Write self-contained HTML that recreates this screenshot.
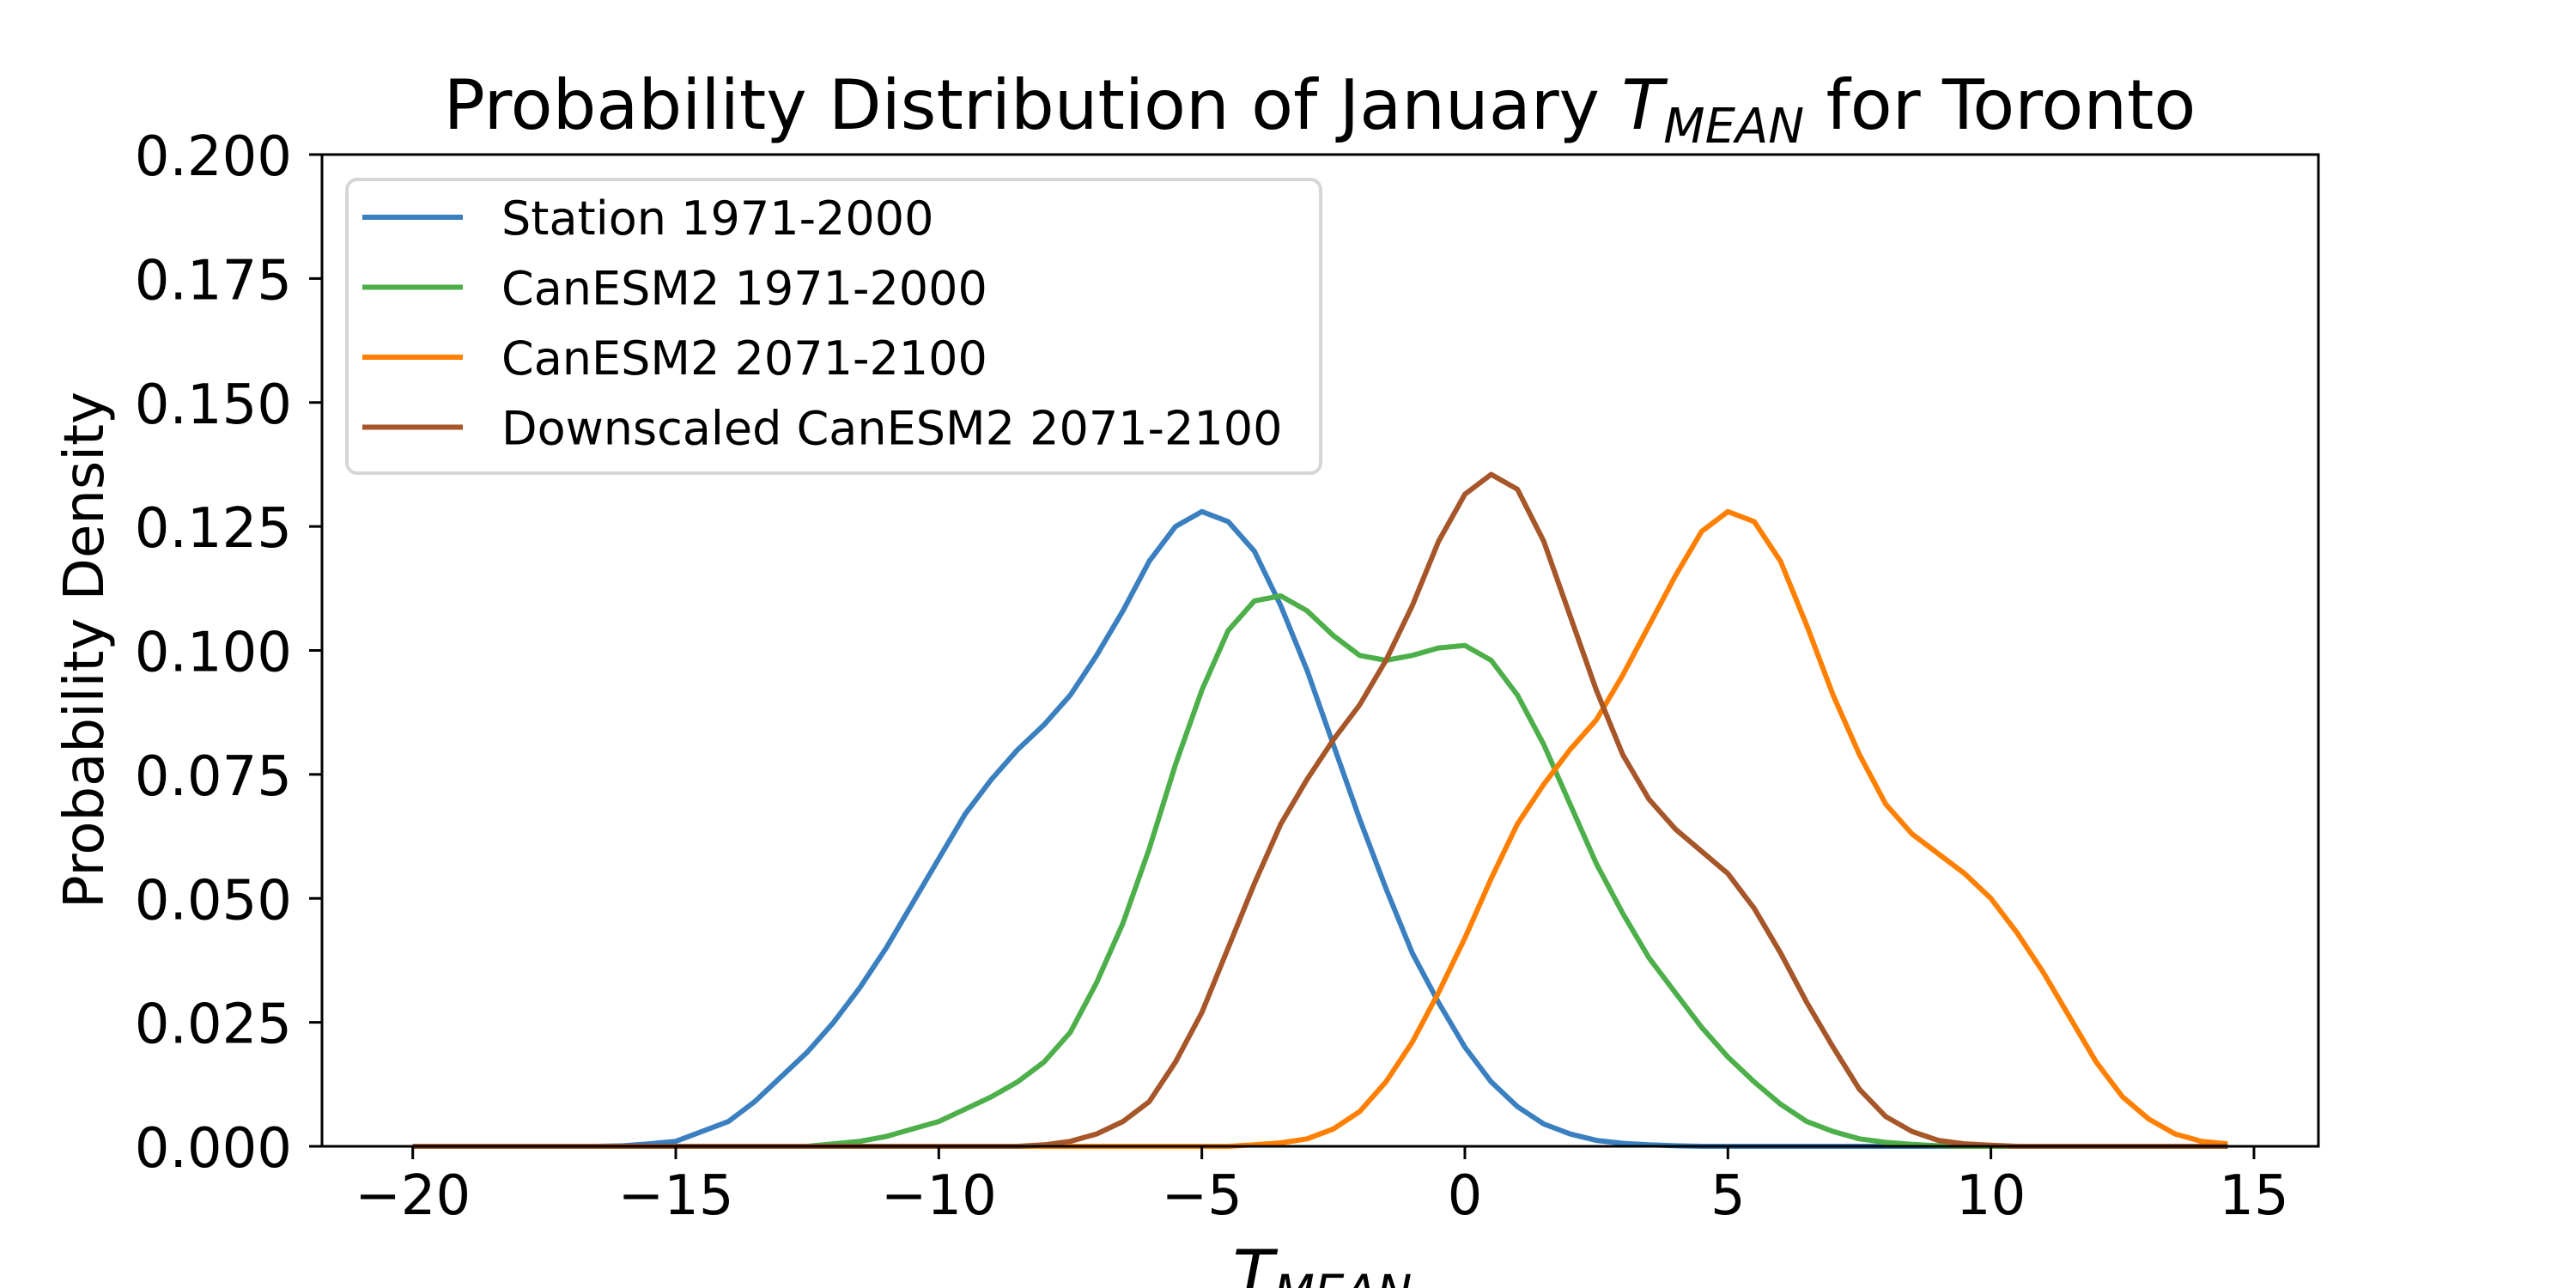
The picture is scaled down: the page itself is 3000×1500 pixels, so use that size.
<!DOCTYPE html>
<html><head><meta charset="utf-8"><style>
html,body{margin:0;padding:0;background:#fff;}
svg{display:block;font-family:"DejaVu Sans","Liberation Sans",sans-serif;}
</style></head><body>
<svg id="chart" width="3000" height="1500" viewBox="0 0 3000 1500" xmlns="http://www.w3.org/2000/svg">
<rect width="3000" height="1500" fill="#fff"/>
<text x="1537" y="150" font-size="80" text-anchor="middle">Probability Distribution of January <tspan font-style="italic">T</tspan><tspan font-style="italic" font-size="56" dy="16">MEAN</tspan><tspan dy="-16"> for Toronto</tspan></text>
<g id="series"></g>
<g id="axes"></g>
<text x="0" y="0" font-size="64" text-anchor="middle" transform="translate(120,757) rotate(-90)">Probability Density</text>
<text x="1540" y="1512" font-size="64" text-anchor="middle"><tspan font-style="italic" font-size="78">T</tspan><tspan font-style="italic" font-size="55" dy="12">MEAN</tspan></text>
<g>
<rect x="404" y="209" width="1134" height="342" rx="12" fill="#fff" fill-opacity="0.8" stroke="#d6d6d6" stroke-width="4"/>
<g id="legend-items"></g>
</g>
</svg>
<script>
const xs = [];
for (let i = 0; i < 70; i++) xs.push(-20 + i * 0.5);
const seriesNames = ["Station 1971-2000","CanESM2 1971-2000","CanESM2 2071-2100","Downscaled CanESM2 2071-2100"];
const seriesColors = ["#3a7fbf","#4daf4a","#ff7f00","#a65628"];
// values for x = -20 .. 14.5 step 0.5
const station = [0,0,0,0,0,0,0,0,0.0001,0.0005,0.001,0.003,0.005,0.009,0.014,0.019,0.025,0.032,0.040,0.049,
0.058,0.067,0.074,0.080,0.085,0.091,0.099,0.108,0.118,0.125,0.128,0.126,0.120,0.109,0.096,0.081,0.066,0.052,0.039,0.029,
0.020,0.013,0.008,0.0045,0.0025,0.0012,0.0006,0.0003,0.0001,0,0,0,0,0,0,0,0,0,0,0,
0,0,0,0,0,0,0,0,0,0];
const canHist = [0,0,0,0,0,0,0,0,0,0,0,0,0,0,0,0,0.0005,0.001,0.002,0.0035,
0.005,0.0075,0.010,0.013,0.017,0.023,0.033,0.045,0.060,0.077,0.092,0.104,0.110,0.111,0.108,0.103,0.099,0.098,0.099,0.1005,
0.101,0.098,0.091,0.081,0.069,0.057,0.047,0.038,0.031,0.024,0.018,0.013,0.0085,0.005,0.003,0.0015,0.0008,0.0004,0.0001,0,
0,0,0,0,0,0,0,0,0,0];
const canFut = [0,0,0,0,0,0,0,0,0,0,0,0,0,0,0,0,0,0,0,0,
0,0,0,0,0,0,0,0,0,0,0,0,0.0003,0.0007,0.0015,0.0035,0.007,0.013,0.021,0.031,
0.042,0.054,0.065,0.073,0.080,0.086,0.095,0.105,0.115,0.124,0.128,0.126,0.118,0.105,0.091,0.079,0.069,0.063,0.059,0.055,
0.050,0.043,0.035,0.026,0.017,0.010,0.0055,0.0025,0.001,0.0005];
const downFut = [0,0,0,0,0,0,0,0,0,0,0,0,0,0,0,0,0,0,0,0,
0,0,0,0,0.0003,0.001,0.0025,0.005,0.009,0.017,0.027,0.040,0.053,0.065,0.074,0.082,0.089,0.098,0.109,0.122,
0.1315,0.1355,0.1325,0.122,0.107,0.092,0.079,0.070,0.064,0.0595,0.055,0.048,0.039,0.029,0.020,0.0115,0.006,0.003,0.0012,0.0005,
0.0002,0,0,0,0,0,0,0,0,0];
const seriesData = [station, canHist, canFut, downFut];
const xTicks = [-20,-15,-10,-5,0,5,10,15];
const xTickLabels = ["\u221220","\u221215","\u221210","\u22125","0","5","10","15"];
const yTicks = [0,0.025,0.05,0.075,0.1,0.125,0.15,0.175,0.2];
const yTickLabels = ["0.000","0.025","0.050","0.075","0.100","0.125","0.150","0.175","0.200"];

const L=375,R=2700,T=180,B=1335,XMIN=-21.725,XMAX=16.225,YMIN=0,YMAX=0.2;
const sx = v => L + (v - XMIN) / (XMAX - XMIN) * (R - L);
const sy = v => B - (v - YMIN) / (YMAX - YMIN) * (B - T);
const NS = "http://www.w3.org/2000/svg";
function mk(tag, attrs, parent){const e=document.createElementNS(NS,tag);for(const k in attrs)e.setAttribute(k,attrs[k]);parent.appendChild(e);return e;}

const sg = document.getElementById('series');
seriesData.forEach((d, si) => {
  const pts = d.map((v, i) => sx(xs[i]).toFixed(1) + ',' + sy(v).toFixed(1)).join(' ');
  const pl = mk('polyline', {points: pts, fill: 'none', stroke: seriesColors[si], 'stroke-width': 6, 'stroke-linejoin': 'round'}, sg);
  
  
});

const ag = document.getElementById('axes');
const frame = mk('rect', {x: L, y: T, width: R - L, height: B - T, fill: 'none', stroke: '#000', 'stroke-width': 3}, ag);


xTicks.forEach((t, i) => {
  const x = sx(t);
  const tk = mk('line', {x1: x, y1: B, x2: x, y2: B + 15, stroke: '#000', 'stroke-width': 3}, ag);
  
  
  const tx = mk('text', {x: x, y: 1414, 'font-size': 64, 'text-anchor': 'middle'}, ag);
  tx.textContent = xTickLabels[i];
  
  
});
yTicks.forEach((t, i) => {
  const y = sy(t);
  const tk = mk('line', {x1: L - 15, y1: y, x2: L, y2: y, stroke: '#000', 'stroke-width': 3}, ag);
  
  
  const tx = mk('text', {x: 340, y: y + 24, 'font-size': 64, 'text-anchor': 'end'}, ag);
  tx.textContent = yTickLabels[i];
  
  
});

const lg = document.getElementById('legend-items');
seriesNames.forEach((n, i) => {
  const y = 253 + i * 81.5;
  const ln = mk('line', {x1: 422, y1: y, x2: 539, y2: y, stroke: seriesColors[i], 'stroke-width': 6}, lg);
  
  
  const tx = mk('text', {x: 584, y: y + 20, 'font-size': 54}, lg);
  tx.textContent = n;
  
  
});
</script>
</body></html>
